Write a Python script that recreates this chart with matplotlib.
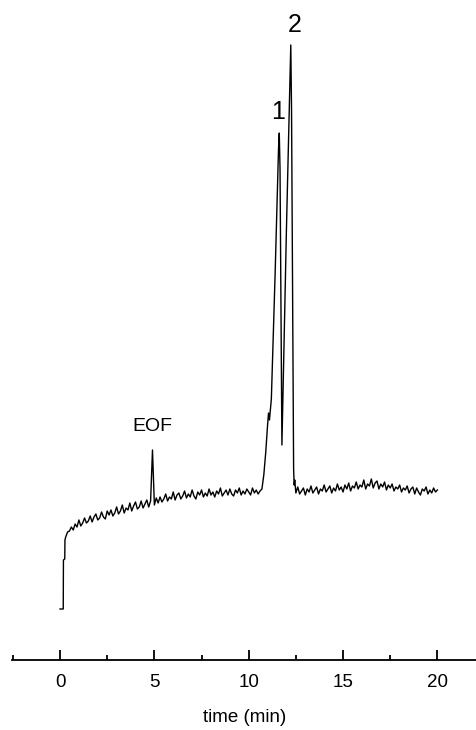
import numpy as np
import matplotlib
matplotlib.use('Agg')
import matplotlib.pyplot as plt
from matplotlib.ticker import MultipleLocator

plt.rcParams['font.family'] = ['Liberation Sans', 'DejaVu Sans']

# start of the run (injection dip)
t_start = [0.0, 0.17, 0.18, 0.25, 0.26]
s_start = [0.0, 0.0, 4.9, 5.0, 6.9]

# baseline 0.3 - 10.6 min, read every 0.1 min (includes EOF spike at 4.9)
t0_a = 0.3
s_base_a = [7.2, 7.7, 7.8, 8.2, 7.9, 8.5, 8.2, 8.9, 8.3, 8.6,
            9.1, 8.6, 8.8, 9.3, 8.7, 9.2, 9.5, 8.9, 9.1, 9.7,
            9.2, 9.0, 9.8, 9.4, 9.9, 9.3, 9.6, 10.2, 9.5, 9.8,
            10.4, 9.6, 10.1, 9.9, 10.6, 9.8, 10.3, 10.7, 10.0, 10.2,
            10.8, 10.1, 10.5, 10.9, 10.2, 10.8, 15.9, 10.4, 11.1, 10.6,
            11.2, 10.7, 11.0, 11.5, 10.8, 11.2, 11.0, 11.7, 10.9, 11.4,
            11.6, 11.0, 11.3, 11.8, 11.1, 11.5, 11.2, 11.9, 11.3, 11.0,
            11.7, 11.4, 11.9, 11.2, 11.6, 11.3, 12.0, 11.4, 11.7, 11.2,
            11.8, 11.5, 12.1, 11.3, 11.6, 11.9, 11.4, 12.0, 11.5, 11.3,
            11.9, 11.6, 12.1, 11.4, 11.8, 11.5, 12.0, 11.7, 11.4, 12.1,
            11.6, 11.9, 11.5, 11.8]

# peak region (peaks 1 and 2)
t_peaks = [10.7, 10.8, 10.9, 11.0, 11.05, 11.1, 11.15, 11.2, 11.4,
           11.58, 11.62, 11.66, 11.76, 11.8, 12.0, 12.2, 12.23, 12.27,
           12.38, 12.41, 12.44]
s_peaks = [12.0, 13.4, 15.6, 18.4, 19.6, 18.9, 19.9, 21.0, 33.5,
           46.0, 47.6, 44.0, 16.4, 20.0, 38.0, 54.0, 56.4, 50.0,
           14.0, 12.4, 12.9]

# baseline 12.5 - 20.0 min, every 0.1 min
t0_b = 12.5
s_base_b = [11.6, 12.2, 11.5, 11.8, 12.1, 11.4, 12.0, 11.7, 12.3, 11.6,
            11.9, 12.2, 11.5, 12.0, 11.8, 12.4, 11.7, 12.0, 12.3, 11.6,
            12.1, 11.8, 12.5, 11.9, 12.2, 11.7, 12.4, 12.0, 12.6, 11.8,
            12.3, 12.1, 12.7, 12.0, 12.4, 12.2, 12.9, 12.0, 12.5, 12.3,
            13.0, 12.1, 12.6, 12.8, 12.0, 12.5, 12.2, 12.7, 11.9, 12.4,
            12.1, 12.5, 11.8, 12.2, 12.0, 12.4, 11.7, 12.1, 11.9, 12.3,
            11.6, 12.0, 12.2, 11.5, 12.1, 11.7, 11.4, 12.0, 11.8, 12.2,
            11.5, 11.9, 11.6, 12.1, 11.7, 11.9]

t_a = t0_a + 0.1 * np.arange(len(s_base_a))
t_b = t0_b + 0.1 * np.arange(len(s_base_b))
t = np.concatenate([t_start, t_a, t_peaks, t_b])
s = np.concatenate([s_start, s_base_a, s_peaks, s_base_b])

fig = plt.figure(figsize=(4.77, 7.30), dpi=100)
ax = fig.add_axes([0.025, 0.0959, 0.975, 0.9041])
ax.plot(t, s, color='black', lw=1.0)

ax.set_xlim(-2.55, 22.1)
ax.set_ylim(-5.1, 60.9)

for sp in ['top', 'right', 'left']:
    ax.spines[sp].set_visible(False)
ax.spines['bottom'].set_linewidth(1.3)
ax.set_yticks([])
ax.xaxis.set_major_locator(MultipleLocator(5))
ax.xaxis.set_minor_locator(MultipleLocator(2.5))
ax.tick_params(axis='x', which='major', direction='in', length=7, width=1.3,
               pad=10, labelsize=13.5)
ax.tick_params(axis='x', which='minor', direction='in', length=3.5, width=1.3)
ax.set_xlabel('time (min)', fontsize=13.5, labelpad=13)

ax.text(4.9, 17.4, 'EOF', ha='center', va='bottom', fontsize=14)
ax.text(11.55, 48.5, '1', ha='center', va='bottom', fontsize=18)
ax.text(12.45, 57.2, '2', ha='center', va='bottom', fontsize=18)

fig.savefig('out.png', dpi=100)
